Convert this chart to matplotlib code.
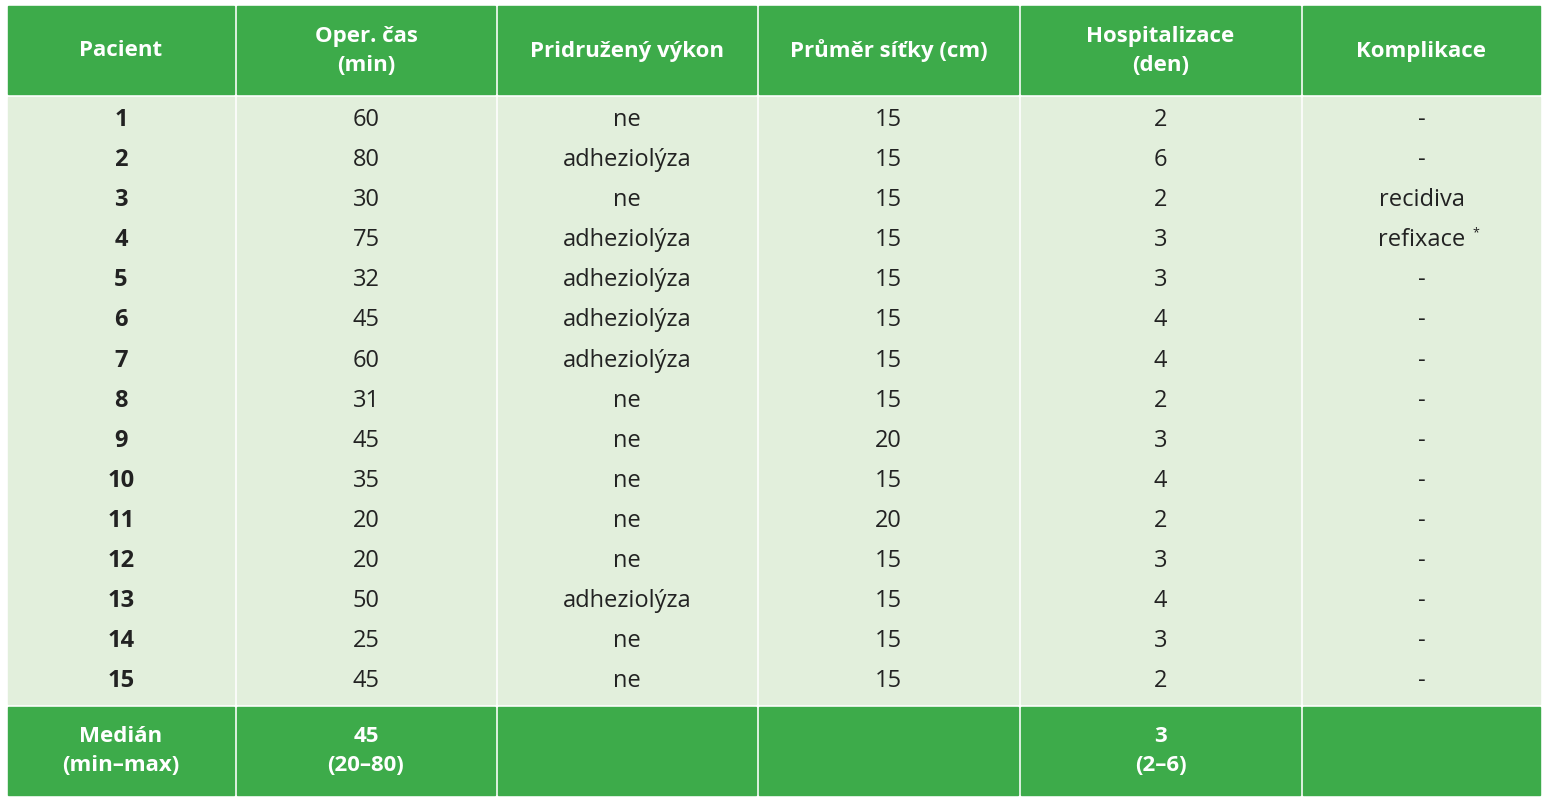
import matplotlib.pyplot as plt
from matplotlib.patches import Rectangle

plt.rcParams['font.family'] = ['Open Sans', 'DejaVu Sans']

headers = ['Pacient', 'Oper. čas\n(min)', 'Pridružený výkon', 'Průměr síťky (cm)',
           'Hospitalizace\n(den)', 'Komplikace']
pacient = [str(i) for i in range(1, 16)]
oper_cas = [60, 80, 30, 75, 32, 45, 60, 31, 45, 35, 20, 20, 50, 25, 45]
vykon = ['ne', 'adheziolýza', 'ne', 'adheziolýza', 'adheziolýza', 'adheziolýza',
         'adheziolýza', 'ne', 'ne', 'ne', 'ne', 'ne', 'adheziolýza', 'ne', 'ne']
sitka = [15, 15, 15, 15, 15, 15, 15, 15, 20, 15, 20, 15, 15, 15, 15]
hospital = [2, 6, 2, 3, 3, 4, 4, 2, 3, 4, 2, 3, 4, 3, 2]
komplikace = ['-', '-', 'recidiva', 'refixace*', '-', '-', '-', '-', '-', '-',
              '-', '-', '-', '-', '-']
footer = ['Medián\n(min–max)', '45\n(20–80)', '', '', '3\n(2–6)', '']

green = '#3dab4a'
light = '#e2efdc'
col_x = [8, 237, 498, 759, 1021, 1303, 1543]

fig = plt.figure(figsize=(15.46, 8), dpi=100)
ax = fig.add_axes([0, 0, 1, 1])
ax.set_xlim(0, 1546)
ax.set_ylim(800, 0)
ax.axis('off')

for i in range(6):
    x0, x1 = col_x[i], col_x[i + 1]
    ax.add_patch(Rectangle((x0, 6), x1 - x0 - 3, 88, color=green))
    ax.add_patch(Rectangle((x0, 97), x1 - x0 - 3, 607, color=light))
    ax.add_patch(Rectangle((x0, 707), x1 - x0 - 3, 88, color=green))
    cx = (x0 + x1 - 3) / 2
    ax.text(cx, 51, headers[i], ha='center', va='center', color='white',
            fontsize=16, fontweight='bold', linespacing=1.55)
    ax.text(cx, 751, footer[i], ha='center', va='center', color='white',
            fontsize=16, fontweight='bold', linespacing=1.55)

cols = [pacient, oper_cas, vykon, sitka, hospital, komplikace]
for r in range(15):
    y = 120 + r * 40.1
    for i, col in enumerate(cols):
        cx = (col_x[i] + col_x[i + 1] - 3) / 2
        val = str(col[r])
        if val.endswith('*'):
            ax.text(cx, y, val[:-1], ha='center', va='center', fontsize=17, color='#222222')
            ax.text(cx + 54, y - 8, '*', ha='center', va='center', fontsize=9, color='#222222')
            continue
        ax.text(cx, y, val, ha='center', va='center', fontsize=17, color='#222222',
                fontweight='bold' if i == 0 else 'normal')

fig.savefig('out.png', dpi=100, facecolor='white')
